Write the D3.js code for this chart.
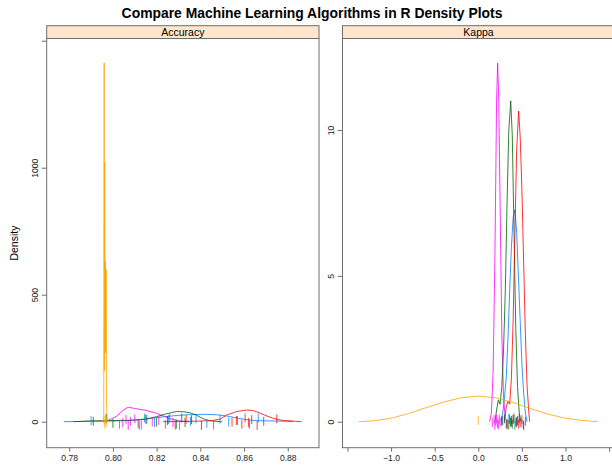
<!DOCTYPE html>
<html>
<head>
<meta charset="utf-8">
<script src="https://cdn.jsdelivr.net/npm/d3@7"></script>
<style>
  body { margin: 0; background: #fff; }
  text { font-family: "Liberation Sans", Arial, sans-serif; }
</style>
</head>
<body>
<script>
// Width and height
var w = 612;
var h = 467;

// models, in lattice superpose order
var models = ["lda", "cart", "knn", "svm", "rf"];
var colors = ["#0080ff", "#ff00ff", "#006400", "#ff0000", "#ffa500"];

// Accuracy densities: [x, density]
var accLda = [[0.7775,0],[0.785,1],[0.795,2],[0.805,4],[0.812,8],[0.818,14],[0.824,20],[0.830,25],[0.836,28],[0.842,29],[0.848,27],[0.853,21],[0.857,14],[0.861,8],[0.866,4],[0.872,3],[0.878,2],[0.8825,0]];
var accCart = [[0.7954,0],[0.7986,8],[0.8018,22],[0.8046,45],[0.807,57],[0.810,52],[0.8147,45],[0.8192,35],[0.8224,25],[0.826,12],[0.8307,3],[0.835,0]];
var accKnn = [[0.782,0],[0.790,3],[0.797,4],[0.805,5],[0.810,6],[0.815,10],[0.820,20],[0.824,30],[0.829,40],[0.8325,39],[0.8352,35],[0.838,27],[0.840,17],[0.843,6],[0.846,2],[0.850,0]];
var accSvm = [[0.823,0],[0.830,1],[0.838,2],[0.845,4],[0.849,10],[0.852,26],[0.8566,40],[0.8612,46],[0.864,44],[0.867,35],[0.870,24],[0.8734,13],[0.877,6],[0.8795,4],[0.883,2],[0.8863,0]];
var accRf = [[0.7954,0],[0.7958,20],[0.7960,1413],[0.7961,200],[0.79625,1020],[0.7964,280],[0.7966,630],[0.79672,270],[0.7969,600],[0.79705,90],[0.7973,15],[0.7978,0]];

// Kappa densities: [x, density]
var kapLda = [[0.26,0],[0.28,0.3],[0.30,0.8],[0.32,1.5],[0.34,2.8],[0.36,4.5],[0.38,6],[0.40,7],[0.42,7.27],[0.44,6.5],[0.46,5],[0.48,3.5],[0.50,2],[0.52,1],[0.54,0.3],[0.56,0]];
var kapCart = [[0.13,0],[0.15,0.3],[0.17,1.7],[0.19,5.5],[0.21,11],[0.222,12.3],[0.235,11],[0.25,7.5],[0.27,3],[0.29,0.8],[0.31,0.1],[0.33,0]];
var kapKnn = [[0.19,0],[0.21,0.4],[0.23,0.75],[0.25,0.6],[0.27,1.2],[0.29,2.5],[0.31,4.5],[0.33,7.5],[0.35,10],[0.372,11],[0.39,9.8],[0.41,6.5],[0.43,3.2],[0.45,1.2],[0.47,0.3],[0.49,0]];
var kapSvm = [[0.30,0],[0.32,0.5],[0.34,0.7],[0.36,0.6],[0.38,1.5],[0.40,3.5],[0.42,6.5],[0.44,9.3],[0.463,10.65],[0.48,9.8],[0.50,8],[0.52,5.5],[0.54,3],[0.56,1.2],[0.58,0.3],[0.59,0]];
var kapRf = [[-1.37,0],[-1.2,0.03],[-1.0,0.12],[-0.8,0.28],[-0.6,0.48],[-0.4,0.67],[-0.2,0.82],[0.0,0.88],[0.2,0.82],[0.4,0.66],[0.6,0.45],[0.8,0.26],[1.0,0.12],[1.2,0.04],[1.37,0]];

// resample values drawn as "|" points under each curve
var rugAccLda = [0.790,0.803,0.8145,0.819,0.8255,0.8305,0.8355,0.838,0.843,0.846,0.849,0.853,0.857,0.8625,0.8665];
var rugAccCart = [0.8045,0.806,0.807,0.808,0.810,0.8115,0.813,0.815,0.818,0.821,0.824,0.826,0.8275];
var rugAccKnn = [0.791,0.797,0.800,0.812,0.8155,0.820,0.825,0.829,0.8315,0.833,0.836,0.8405];
var rugAccSvm = [0.8285,0.8335,0.8545,0.8565,0.859,0.8605,0.862,0.8635,0.866,0.869,0.875];
var rugAccRf = [0.7960,0.7963,0.7966,0.7969,0.7972];
var rugKapLda = [0.28,0.32,0.35,0.38,0.40,0.42,0.44,0.47,0.50,0.52];
var rugKapCart = [0.16,0.18,0.19,0.20,0.21,0.22,0.23,0.24,0.25,0.27];
var rugKapKnn = [0.27,0.30,0.33,0.35,0.36,0.37,0.38,0.39,0.41,0.44];
var rugKapSvm = [0.33,0.40,0.43,0.45,0.46,0.47,0.48,0.50,0.52,0.54];
var rugKapRf = [0.0];

// fixed vertical jitter pattern for the "|" points (fraction of jitter amount)
var jitter = [0.3,-0.6,0.9,-0.2,0.5,-0.9,0.1,0.7,-0.4,-0.8,0.6,-0.1];

// tick values
var accTicks = [0.78, 0.80, 0.82, 0.84, 0.86, 0.88];
var accYTicks = [0, 500, 1000, 1500];
var kapTicks = [-1.5, -1.0, -0.5, 0.0, 0.5, 1.0, 1.5];
var kapYTicks = [0, 5, 10];

var titleText = "Compare Machine Learning Algorithms in R Density Plots";

var panels = [
  {name: "Accuracy", left: 46.7, right: 319, xdom: [0.7697, 0.8943], ydom: [-102.4, 1508.7],
   curves: [accLda, accCart, accKnn, accSvm, accRf],
   rugs: [rugAccLda, rugAccCart, rugAccKnn, rugAccSvm, rugAccRf],
   xt: accTicks, xlab: [0.78,0.80,0.82,0.84,0.86,0.88], xfmt: d3.format(".2f"),
   yt: accYTicks, ylab: [0,500,1000]},
  {name: "Kappa", left: 342.5, right: 614.5, xdom: [-1.557, 1.562], ydom: [-0.891, 13.14],
   curves: [kapLda, kapCart, kapKnn, kapSvm, kapRf],
   rugs: [rugKapLda, rugKapCart, rugKapKnn, rugKapSvm, rugKapRf],
   xt: kapTicks, xlab: [-1.0,-0.5,0.0,0.5,1.0], xfmt: d3.format(".1f"),
   yt: kapYTicks, ylab: [0,5,10]}
];

var panelTop = 38.5, panelBottom = 447.7, stripTop = 25.7;
var axisCol = "#6e6e6e";

//Create SVG element
var svg = d3.select("body")
            .append("svg")
            .attr("width", w)
            .attr("height", h);

svg.append("text")
    .attr("x", 312)
    .attr("y", 18)
    .attr("text-anchor", "middle")
    .style("font-weight", "bold")
    .style("font-size", "13.9px")
    .text(titleText);

// y axis title
svg.append("text")
    .attr("transform", "translate(17.5," + ((panelTop + panelBottom) / 2) + ") rotate(-90)")
    .attr("text-anchor", "middle")
    .style("font-size", "10.5px")
    .text("Density");

panels.forEach(function(p) {
    var x = d3.scaleLinear().domain(p.xdom).range([p.left, p.right]);
    var y = d3.scaleLinear().domain(p.ydom).range([panelBottom, panelTop]);
    var g = svg.append("g").attr("class", "panel");

    // strip
    g.append("rect")
        .attr("x", p.left).attr("y", stripTop)
        .attr("width", p.right - p.left).attr("height", panelTop - stripTop)
        .attr("fill", "#ffe5cc")
        .attr("stroke", axisCol);
    g.append("text")
        .attr("x", (p.left + p.right) / 2)
        .attr("y", panelTop - 3)
        .attr("text-anchor", "middle")
        .style("font-size", "10.5px")
        .text(p.name);

    // x axis
    var xAxis = d3.axisBottom(x)
        .tickValues(p.xt)
        .tickSize(4)
        .tickPadding(3)
        .tickFormat(function(d) {
            return p.xlab.some(function(v) { return Math.abs(v - d) < 1e-9; }) ? p.xfmt(d) : "";
        });
    var gx = g.append("g").attr("transform", "translate(0," + panelBottom + ")").call(xAxis);
    gx.select(".domain").remove();
    gx.selectAll("line").attr("stroke", axisCol);
    gx.selectAll("text").style("font-size", "8.6px").attr("fill", "#222")
        .attr("font-family", null);

    // y axis
    var yAxis = d3.axisLeft(y)
        .tickValues(p.yt)
        .tickSize(5)
        .tickPadding(0)
        .tickFormat(function(d) { return p.ylab.indexOf(d) >= 0 ? d : ""; });
    var gy = g.append("g").attr("transform", "translate(" + p.left + ",0)").call(yAxis);
    gy.select(".domain").remove();
    gy.selectAll("line").attr("stroke", axisCol);
    gy.selectAll("text")
        .style("font-size", "8.6px").attr("fill", "#222")
        .attr("font-family", null)
        .attr("text-anchor", "middle")
        .attr("dy", null)
        .attr("x", null)
        .attr("transform", "translate(-12,0) rotate(-90)")
        .attr("y", 3);

    // curves
    var line = d3.line()
        .x(function(d) { return x(d[0]); })
        .y(function(d) { return y(d[1]); });

    p.curves.forEach(function(c, i) {
        g.append("path")
            .datum(c)
            .attr("d", line)
            .attr("fill", "none")
            .attr("stroke", colors[i])
            .attr("stroke-opacity", 0.8)
            .attr("stroke-width", 1);
    });

    // "|" points, jittered around 0
    var jAmt = 0.01 * (p.ydom[1] - p.ydom[0]);
    p.rugs.forEach(function(r, i) {
        g.selectAll("line.rug" + i)
            .data(r)
            .enter()
            .append("line")
            .classed("rug" + i, true)
            .attr("x1", function(d) { return x(d); })
            .attr("x2", function(d) { return x(d); })
            .attr("y1", function(d, k) { return y(jitter[(k + i * 3) % jitter.length] * jAmt) - 4.5; })
            .attr("y2", function(d, k) { return y(jitter[(k + i * 3) % jitter.length] * jAmt) + 4.5; })
            .attr("stroke", colors[i])
            .attr("stroke-opacity", 0.75)
            .attr("stroke-width", 1);
    });

    // panel box
    g.append("rect")
        .attr("x", p.left).attr("y", panelTop)
        .attr("width", p.right - p.left).attr("height", panelBottom - panelTop)
        .attr("fill", "none")
        .attr("stroke", axisCol);
});
</script>
</body>
</html>
